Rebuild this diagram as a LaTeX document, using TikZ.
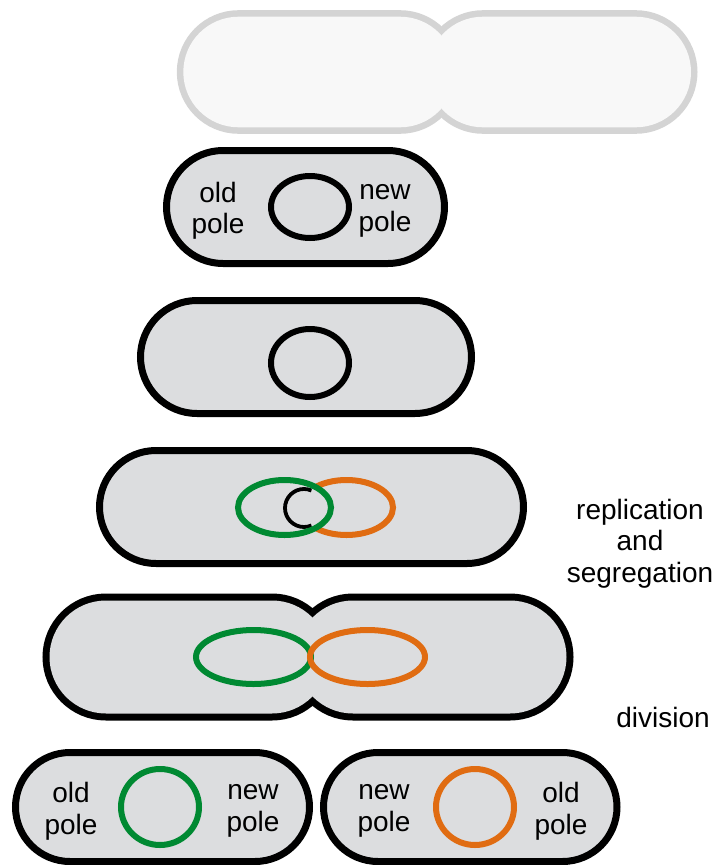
\documentclass[tikz,border=0pt]{standalone}
\usepackage{fontspec}
\setmainfont{Liberation Sans}
\begin{document}
\begin{tikzpicture}[x=1pt,y=-1pt,
  cellline/.style={draw=black,line width=7pt,fill=cellgray},
  chrom/.style={draw=black,line width=6pt},
  thinchrom/.style={draw=black,line width=3.8pt},
  oldchrom/.style={draw=chromgreen,line width=6pt},
  newchrom/.style={draw=chromorange,line width=6pt},
  label/.style={align=center,inner sep=0pt,font=\fontsize{28}{31.5}\selectfont}]
\definecolor{cellgray}{RGB}{220,221,223}
\definecolor{ghoststroke}{RGB}{212,212,212}
\definecolor{ghostfill}{RGB}{248,248,248}
\definecolor{chromgreen}{RGB}{0,137,50}
\definecolor{chromorange}{RGB}{224,108,18}
\useasboundingbox (0,0) rectangle (717,865);

% faded daughter pair (future division)
\draw[draw=ghoststroke,line width=13pt,rounded corners=55.3pt] (183.3,16.7) rectangle (455.3,127.3);
\draw[draw=ghoststroke,line width=13pt,rounded corners=55.3pt] (427.7,16.7) rectangle (691,127.3);
\fill[ghostfill,rounded corners=55.3pt] (183.3,16.7) rectangle (455.3,127.3);
\fill[ghostfill,rounded corners=55.3pt] (427.7,16.7) rectangle (691,127.3);

% newborn cell
\path[cellline,rounded corners=56.5pt] (166.5,150.5) rectangle (444.5,263.5);
\draw[chrom] (310,207) ellipse [x radius=39pt,y radius=31pt];
\node[label] (old1) at (218,211) {old\\pole};
\node[label] (new1) at (385,211) {new\\pole};

% elongated cell
\path[cellline,rounded corners=56.5pt] (140.5,300.5) rectangle (471.5,413.5);
\draw[chrom] (310,363) ellipse [x radius=39pt,y radius=34pt];

% replication and segregation
\path[cellline,rounded corners=56.5pt] (99.5,450.5) rectangle (523.5,563.5);
\draw[newchrom] (346.5,507.5) ellipse [x radius=46.5pt,y radius=27.5pt];
\fill[cellgray] (284.5,507.5) ellipse [x radius=46.5pt,y radius=27.5pt];
\draw[thinchrom] (304,508) ++(67:19pt) arc [start angle=67,end angle=293,radius=19pt];
\draw[oldchrom] (284.5,507.5) ellipse [x radius=46.5pt,y radius=27.5pt];
\node[label] (repl) at (640,543.5) {replication\\and\\segregation};

% constricting cell
\draw[line width=14pt,rounded corners=56.5pt] (49.5,600.5) rectangle (328.5,713.5);
\draw[line width=14pt,rounded corners=56.5pt] (296.5,600.5) rectangle (566.5,713.5);
\fill[cellgray,rounded corners=56.5pt] (49.5,600.5) rectangle (328.5,713.5);
\fill[cellgray,rounded corners=56.5pt] (296.5,600.5) rectangle (566.5,713.5);
\draw[oldchrom] (253.5,657) ellipse [x radius=57.5pt,y radius=27pt];
\draw[newchrom] (367.5,657) ellipse [x radius=57.5pt,y radius=27pt];
\node[label] (div) at (663,717) {division};

% daughter cells
\path[cellline,rounded corners=54.5pt] (15.5,752.5) rectangle (309.5,861.5);
\draw[oldchrom] (160,807) ellipse [x radius=39pt,y radius=38pt];
\node[label] (old2) at (71,811) {old\\pole};
\node[label] (new2) at (253,811) {new\\pole};

\path[cellline,rounded corners=54.5pt] (323.5,752.5) rectangle (617,861.5);
\draw[newchrom] (475,807) ellipse [x radius=39pt,y radius=38pt];
\node[label] (new3) at (384,811) {new\\pole};
\node[label] (old3) at (561,811) {old\\pole};
\end{tikzpicture}
\end{document}
